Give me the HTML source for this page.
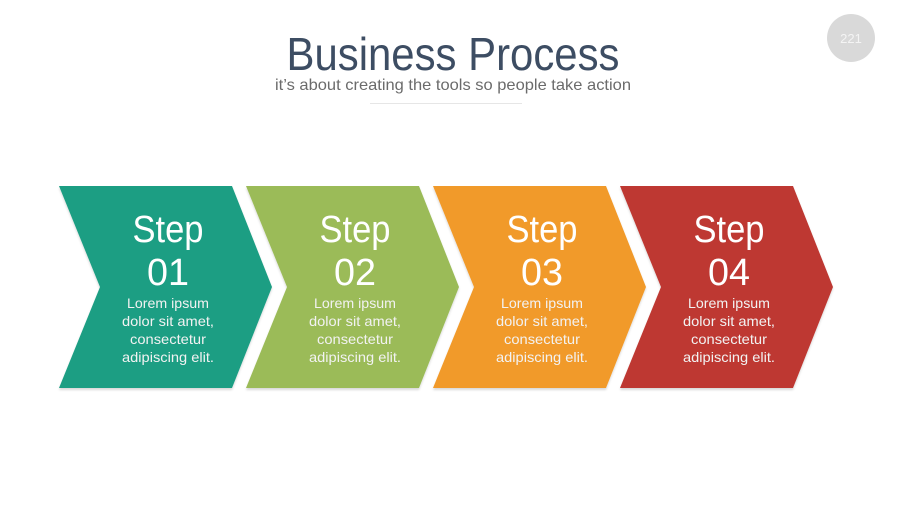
<!DOCTYPE html>
<html><head><meta charset="utf-8"><style>
html,body{margin:0;padding:0;background:#fff;}
svg{display:block;}
text{font-family:"Liberation Sans",sans-serif;}
</style></head><body>
<svg width="900" height="506" viewBox="0 0 900 506" xmlns="http://www.w3.org/2000/svg">
<defs>
<filter id="sh" x="-10%" y="-10%" width="120%" height="120%"><feDropShadow dx="0" dy="2" stdDeviation="1" flood-color="#000" flood-opacity="0.15"/></filter>
</defs>
<circle cx="851" cy="38" r="24" fill="#d9d9d9"/>
<text x="851" y="43" font-size="13" fill="#f4f4f4" text-anchor="middle">221</text>
<text x="453" y="70" font-size="46" fill="#3d4d63" text-anchor="middle" textLength="333" lengthAdjust="spacingAndGlyphs">Business Process</text>
<text x="453" y="90" font-size="16" fill="#6b6b6b" text-anchor="middle" textLength="356" lengthAdjust="spacingAndGlyphs">it’s about creating the tools so people take action</text>
<line x1="370" y1="103.5" x2="522" y2="103.5" stroke="#e6e6e6" stroke-width="1"/>
<g filter="url(#sh)">
<polygon points="59,186 232,186 272,287 232,388 59,388 100,287" fill="#1e9e83"/>
<polygon points="246,186 419,186 459,287 419,388 246,388 287,287" fill="#9bbb59"/>
<polygon points="433,186 606,186 646,287 606,388 433,388 474,287" fill="#f19a2b"/>
<polygon points="620,186 793,186 833,287 793,388 620,388 661,287" fill="#be3730"/>
</g>
<g fill="#ffffff" text-anchor="middle">
<g font-size="38">
<text x="168" y="242" textLength="71" lengthAdjust="spacingAndGlyphs">Step</text>
<text x="355" y="242" textLength="71" lengthAdjust="spacingAndGlyphs">Step</text>
<text x="542" y="242" textLength="71" lengthAdjust="spacingAndGlyphs">Step</text>
<text x="729" y="242" textLength="71" lengthAdjust="spacingAndGlyphs">Step</text>
<text x="168" y="285" textLength="42" lengthAdjust="spacingAndGlyphs">01</text>
<text x="355" y="285" textLength="42" lengthAdjust="spacingAndGlyphs">02</text>
<text x="542" y="285" textLength="42" lengthAdjust="spacingAndGlyphs">03</text>
<text x="729" y="285" textLength="42" lengthAdjust="spacingAndGlyphs">04</text>
</g>
<g font-size="14" fill="#f2f2f2">
<g id="t1">
<text x="168" y="308" textLength="82" lengthAdjust="spacingAndGlyphs">Lorem ipsum</text>
<text x="168" y="326" textLength="92" lengthAdjust="spacingAndGlyphs">dolor sit amet,</text>
<text x="168" y="344" textLength="76" lengthAdjust="spacingAndGlyphs">consectetur</text>
<text x="168" y="362" textLength="92" lengthAdjust="spacingAndGlyphs">adipiscing elit.</text>
</g>
<use href="#t1" x="187"/>
<use href="#t1" x="374"/>
<use href="#t1" x="561"/>
</g>
</g>
</svg>
</body></html>
